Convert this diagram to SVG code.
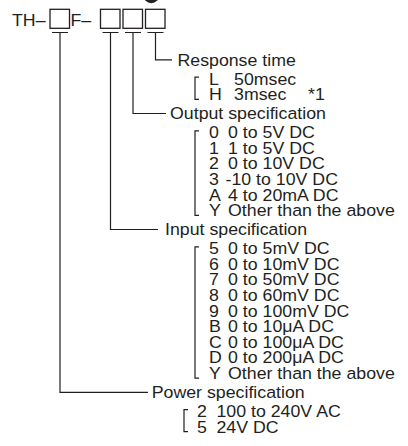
<svg xmlns="http://www.w3.org/2000/svg" width="408" height="446" viewBox="0 0 408 446">
<style>
.t{font-family:"Liberation Sans",Arial,sans-serif;font-size:16.3px;fill:#231f20}
.ln{fill:none;stroke:#231f20;stroke-width:1.2}
.bx{fill:#fff;stroke:#231f20;stroke-width:1.3}
</style>
<rect width="408" height="446" fill="#fff"/>
<circle cx="151.3" cy="-4.8" r="8" fill="#231f20"/>
<g id="model">
<rect class="bx" x="50" y="9.3" width="19.5" height="19"/>
<rect class="bx" x="100.5" y="9.3" width="19.5" height="19"/>
<rect class="bx" x="123" y="9.3" width="19.5" height="19"/>
<rect class="bx" x="145.5" y="9.3" width="19.5" height="19"/>
<g transform="scale(1.09 1)">
<text class="t" x="11" y="26">TH–</text>
<text class="t" x="64.7" y="26">F–</text>
</g>
</g>
<g id="connectors" class="ln">
<path d="M52 32.5H68M102.5 32.5H118.5M125 32.5H141M147.5 32.5H163.5"/>
<path d="M155.5 32.5V59.9H172"/>
<path d="M133 32.5V113.5H166"/>
<path d="M110.5 32.5V229.5H158"/>
<path d="M60 32.5V392.3H148"/>
</g>
<g id="response">
<path class="ln" d="M199 77.2H195V99.3H199"/>
<g transform="scale(1.09 1)">
<text class="t" x="162.8" y="65.7">Response time</text>
<text class="t" x="191.7" y="84.7">L</text><text class="t" x="214.7" y="84.7">50msec</text>
<text class="t" x="191.7" y="100.3">H</text><text class="t" x="214.7" y="100.3">3msec</text><text class="t" x="282.6" y="100.3">*1</text>
</g>
</g>
<g id="output">
<path class="ln" d="M199 130.8H195V215.3H199"/>
<g transform="scale(1.09 1)">
<text class="t" x="156" y="119.3">Output specification</text>
<text class="t" x="191.7" y="138.3">0</text><text class="t" x="209.2" y="138.3">0 to 5V DC</text>
<text class="t" x="191.7" y="153.9">1</text><text class="t" x="209.2" y="153.9">1 to 5V DC</text>
<text class="t" x="191.7" y="169.5">2</text><text class="t" x="209.2" y="169.5">0 to 10V DC</text>
<text class="t" x="191.7" y="185.1">3</text><text class="t" x="206.9" y="185.1">-10 to 10V DC</text>
<text class="t" x="191.7" y="200.7">A</text><text class="t" x="209.2" y="200.7">4 to 20mA DC</text>
<text class="t" x="191.7" y="216.3">Y</text><text class="t" x="209.2" y="216.3">Other than the above</text>
</g>
</g>
<g id="input">
<path class="ln" d="M199 246.8H195V378.1H199"/>
<g transform="scale(1.09 1)">
<text class="t" x="151.4" y="235.3">Input specification</text>
<text class="t" x="191.7" y="254.3">5</text><text class="t" x="209.2" y="254.3">0 to 5mV DC</text>
<text class="t" x="191.7" y="269.9">6</text><text class="t" x="209.2" y="269.9">0 to 10mV DC</text>
<text class="t" x="191.7" y="285.5">7</text><text class="t" x="209.2" y="285.5">0 to 50mV DC</text>
<text class="t" x="191.7" y="301.1">8</text><text class="t" x="209.2" y="301.1">0 to 60mV DC</text>
<text class="t" x="191.7" y="316.7">9</text><text class="t" x="209.2" y="316.7">0 to 100mV DC</text>
<text class="t" x="191.7" y="332.3">B</text><text class="t" x="209.2" y="332.3">0 to 10μA DC</text>
<text class="t" x="191.7" y="347.9">C</text><text class="t" x="209.2" y="347.9">0 to 100μA DC</text>
<text class="t" x="191.7" y="363.5">D</text><text class="t" x="209.2" y="363.5">0 to 200μA DC</text>
<text class="t" x="191.7" y="379.1">Y</text><text class="t" x="209.2" y="379.1">Other than the above</text>
</g>
</g>
<g id="power">
<path class="ln" d="M188 409.6H184V431.7H188"/>
<g transform="scale(1.09 1)">
<text class="t" x="139.2" y="398.1">Power specification</text>
<text class="t" x="180.7" y="417.1">2</text><text class="t" x="198.6" y="417.1">100 to 240V AC</text>
<text class="t" x="180.7" y="432.7">5</text><text class="t" x="198.6" y="432.7">24V DC</text>
</g>
</g>
</svg>
